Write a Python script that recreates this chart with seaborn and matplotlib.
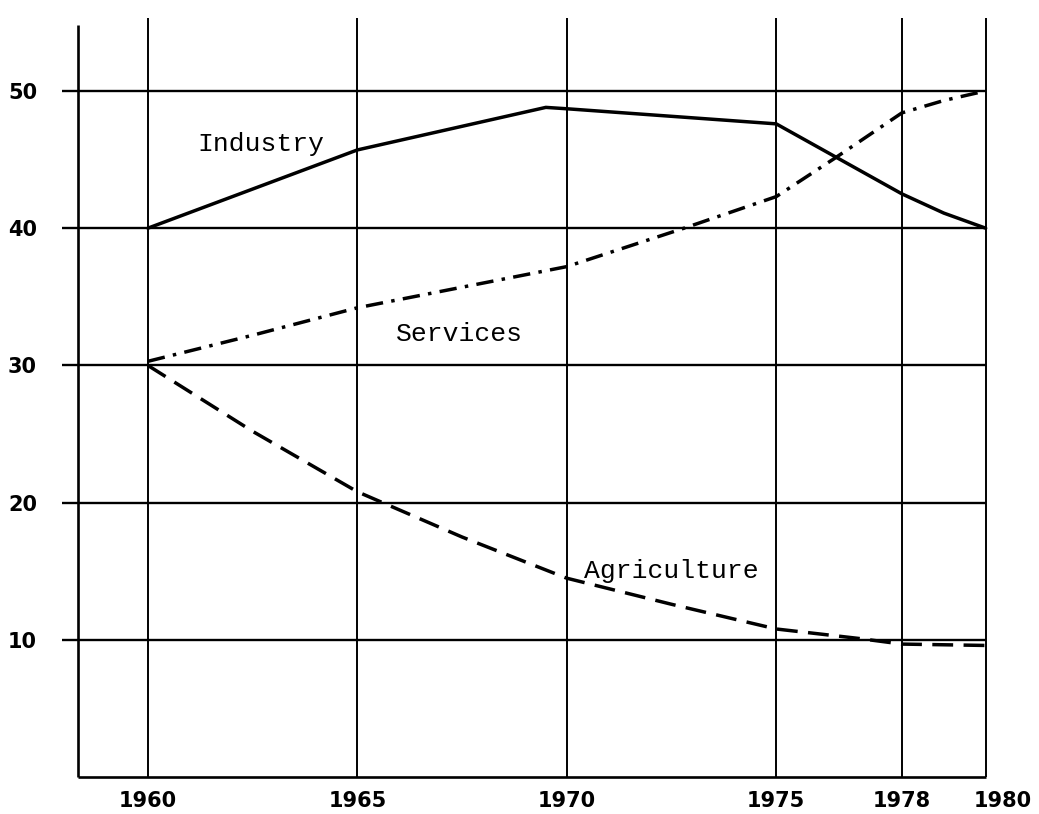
import pandas as pd
import seaborn as sns
import matplotlib.pyplot as plt
import matplotlib.transforms as mtransforms

# years shown on the x axis
tick_years = [1960, 1965, 1970, 1975, 1978, 1980]
grid_values = [10, 20, 30, 40, 50]

# hand-drawn curves
industry_years = [1960, 1965, 1969.5, 1970, 1975, 1978, 1979, 1980]
industry = [40.0, 45.7, 48.8, 48.7, 47.6, 42.5, 41.1, 40.0]

services_years = [1960, 1962.5, 1965, 1970, 1972.8, 1975, 1976.4, 1978, 1979, 1980]
services = [30.3, 32.2, 34.2, 37.2, 40.0, 42.3, 45.1, 48.4, 49.3, 50.0]

agri_years = [1960, 1962.5, 1965, 1967.5, 1970, 1972.5, 1975, 1977, 1978, 1980]
agriculture = [30.0, 25.2, 20.8, 17.5, 14.5, 12.6, 10.8, 10.1, 9.7, 9.6]

sns.set_theme(style="white")
plt.rcParams['font.family'] = ['DejaVu Sans']

fig = plt.figure(figsize=(10.39, 8.14), dpi=100)
ax = fig.add_axes([0.0597, 0.0418, 0.893, 0.946])

ink = "black"
axis_x = 1958.33
grid_top = 55.3

# grid drawn like the original sheet
ax.hlines(grid_values, 1957.95, 1980, color=ink, lw=1.7)
ax.vlines(tick_years, 0, grid_top, color=ink, lw=1.4)
ax.vlines([axis_x], 0, 54.8, color=ink, lw=1.9)
ax.hlines([0], axis_x, 1980, color=ink, lw=1.9)

df_ind = pd.DataFrame({"year": industry_years, "share": industry})
df_srv = pd.DataFrame({"year": services_years, "share": services})
df_agr = pd.DataFrame({"year": agri_years, "share": agriculture})

sns.lineplot(data=df_ind, x="year", y="share", ax=ax, color=ink, lw=2.5,
             estimator=None, sort=False)
sns.lineplot(data=df_srv, x="year", y="share", ax=ax, color=ink, lw=2.5,
             estimator=None, sort=False, dashes=False,
             linestyle=(0, (5, 2.4, 1, 2.4)))
sns.lineplot(data=df_agr, x="year", y="share", ax=ax, color=ink, lw=2.5,
             estimator=None, sort=False, linestyle=(0, (6, 3)))

mono = dict(family=['Liberation Mono', 'DejaVu Sans Mono'], fontsize=19,
            color=ink, ha="center", va="center")
ax.text(1962.7, 46.1, "Industry", **mono)
ax.text(1967.45, 32.3, "Services", **mono)
ax.text(1972.5, 15.0, "Agriculture", **mono)

ax.set_xlim(1957.95, 1980.1)
ax.set_ylim(-0.2, 55.9)
ax.set_xticks(tick_years)
ax.set_xticklabels([str(y) for y in tick_years])
ax.set_yticks(grid_values)
ax.set_yticklabels([str(v) for v in grid_values])
ax.tick_params(axis="both", length=0, labelsize=15, colors=ink)
ax.tick_params(axis="x", pad=8)
ax.tick_params(axis="y", pad=18)
for lab in ax.get_xticklabels() + ax.get_yticklabels():
    lab.set_fontweight("bold")
# last year label sits a little right of its line
last = ax.get_xticklabels()[-1]
last.set_transform(last.get_transform() +
                   mtransforms.ScaledTranslation(0.17, 0, fig.dpi_scale_trans))

ax.set_xlabel("")
ax.set_ylabel("")
for s in ax.spines.values():
    s.set_visible(False)
ax.grid(False)

fig.savefig("out.png", dpi=100)
